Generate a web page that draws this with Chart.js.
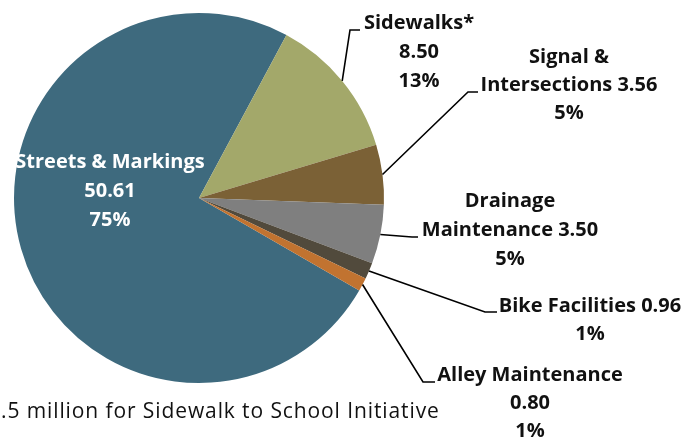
<!DOCTYPE html>
<html>
<head>
<meta charset="utf-8">
<script src="https://cdn.jsdelivr.net/npm/chart.js@4.4.1/dist/chart.umd.min.js"></script>
<style>
  html, body { margin: 0; padding: 0; background: #ffffff; }
  #wrap { width: 699px; height: 445px; position: relative; }
</style>
</head>
<body>
<div id="wrap"><canvas id="c" width="699" height="445"></canvas></div>
<script>
// ---- data ----
const categories = ['Streets & Markings', 'Sidewalks*', 'Signal & Intersections', 'Drainage Maintenance', 'Bike Facilities', 'Alley Maintenance'];
const values = [50.61, 8.50, 3.56, 3.50, 0.96, 0.80];
const sliceColors = ['#3e6a7e', '#a3a86a', '#7b6136', '#7f7f7f', '#514a3c', '#c17330'];
const footnote = '.5 million for Sidewalk to School Initiative';

const total = values.reduce((a, b) => a + b, 0);
const pctText = values.map(v => Math.round(v / total * 100) + '%');
const valText = values.map(v => v.toFixed(2));

// ---- label layout (positions / styling only) ----
const FONT = '"Open Sans", "Noto Sans", sans-serif';
const labelLayout = [
  { x: 110, y: 162, lh: 29, color: '#ffffff', lines: i => ['Streets & Markings', valText[i], pctText[i]], leader: null },
  { x: 419, y: 23, lh: 29, color: '#111111', lines: i => ['Sidewalks*', valText[i], pctText[i]], leader: [[350, 30], [360, 30]] },
  { x: 569, y: 57, lh: 28, color: '#111111', lines: i => ['Signal &', 'Intersections ' + valText[i], pctText[i]], leader: [[468, 92], [478, 92]] },
  { x: 510, y: 201, lh: 29, color: '#111111', lines: i => ['Drainage', 'Maintenance ' + valText[i], pctText[i]], leader: [[412, 237], [418, 237]] },
  { x: 590, y: 306, lh: 28, color: '#111111', lines: i => ['Bike Facilities ' + valText[i], pctText[i]], leader: [[485, 312], [497, 312]] },
  { x: 530, y: 375, lh: 28, color: '#111111', lines: i => ['Alley Maintenance', valText[i], pctText[i]], leader: [[423, 382], [435, 382]] }
];

const labelPlugin = {
  id: 'labels',
  afterDatasetsDraw(chart) {
    const ctx = chart.ctx;
    const meta = chart.getDatasetMeta(0);
    ctx.save();
    // leader lines
    meta.data.forEach((arc, i) => {
      const L = labelLayout[i];
      if (!L.leader) return;
      const p = arc.getProps(['x', 'y', 'startAngle', 'endAngle', 'outerRadius'], true);
      const a = (p.startAngle + p.endAngle) / 2;
      const sx = p.x + Math.cos(a) * p.outerRadius;
      const sy = p.y + Math.sin(a) * p.outerRadius;
      ctx.beginPath();
      ctx.moveTo(sx, sy);
      L.leader.forEach(pt => ctx.lineTo(pt[0], pt[1]));
      ctx.strokeStyle = '#000000';
      ctx.lineWidth = 1.6;
      ctx.stroke();
    });
    // texts
    ctx.font = 'bold 20px ' + FONT;
    ctx.textAlign = 'center';
    ctx.textBaseline = 'middle';
    meta.data.forEach((arc, i) => {
      const L = labelLayout[i];
      ctx.fillStyle = L.color;
      L.lines(i).forEach((t, k) => ctx.fillText(t, L.x, L.y + k * L.lh));
    });
    // footnote
    ctx.font = '21px ' + FONT;
    if ('letterSpacing' in ctx) ctx.letterSpacing = '0.9px';
    ctx.textAlign = 'left';
    ctx.fillStyle = '#111111';
    ctx.fillText(footnote, 1, 412);
    ctx.restore();
  }
};

new Chart(document.getElementById('c'), {
  type: 'pie',
  data: {
    labels: categories,
    datasets: [{
      data: values,
      backgroundColor: sliceColors,
      borderWidth: 0
    }]
  },
  options: {
    responsive: false,
    animation: false,
    rotation: 120,
    layout: { padding: { left: 14, top: 13, right: 315, bottom: 62 } },
    plugins: { legend: { display: false }, tooltip: { enabled: false } }
  },
  plugins: [labelPlugin]
});
</script>
</body>
</html>
